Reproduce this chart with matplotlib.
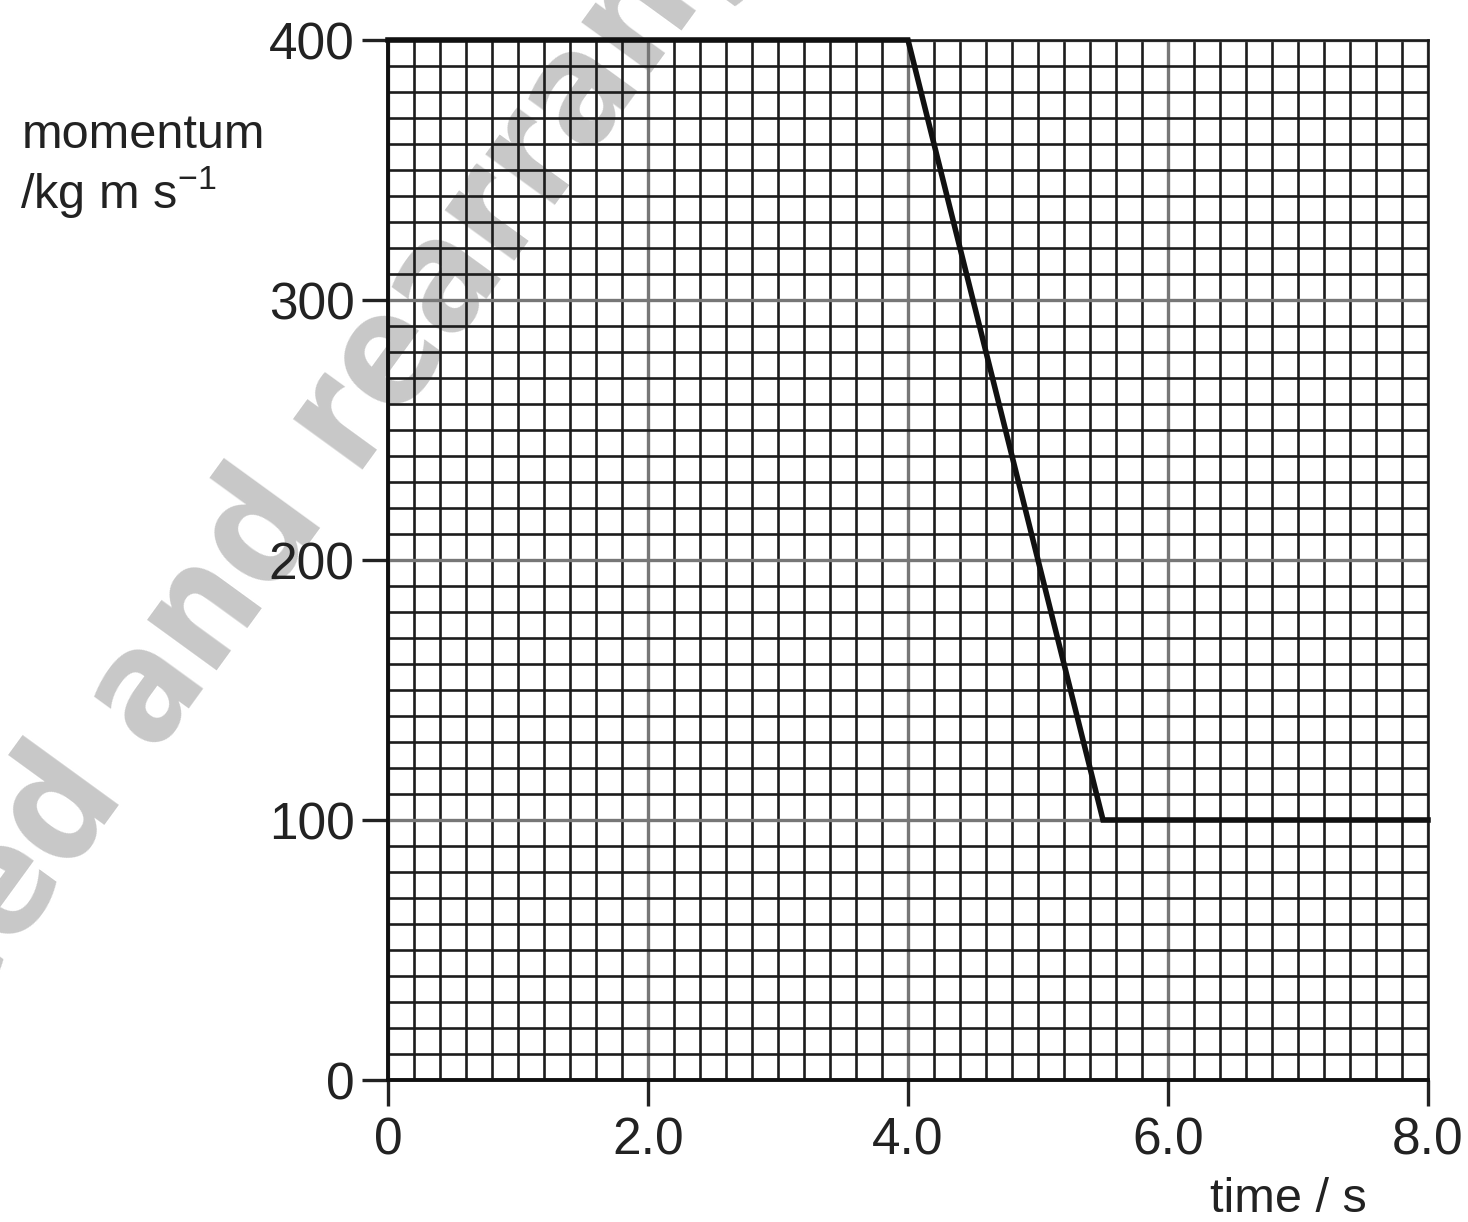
import numpy as np
import matplotlib
matplotlib.use("Agg")
import matplotlib.pyplot as plt
from matplotlib.ticker import MultipleLocator

# data
time_s = [0.0, 4.0, 5.5, 8.0]
momentum = [400, 400, 100, 100]
x_ticks = [0, 2.0, 4.0, 6.0, 8.0]
x_labels = ["0", "2.0", "4.0", "6.0", "8.0"]
y_ticks = [0, 100, 200, 300, 400]
y_labels = ["0", "100", "200", "300", "400"]

plt.rcParams["font.family"] = ["Liberation Sans", "DejaVu Sans"]

fig = plt.figure(figsize=(14.68, 12.22), dpi=100)
ax = fig.add_axes([388 / 1468, 1 - 1080 / 1222, 1040 / 1468, 1040 / 1222])
ax.set_facecolor("none")

# watermark behind the grid
fig.text(0.19, 0.58, "reduced and rearranged", rotation=54,
         rotation_mode="anchor", ha="center", va="center",
         fontsize=112, fontweight="heavy", color="#c8c8c8",
         family="DejaVu Sans", fontstretch="condensed", zorder=-5)

ax.set_xlim(0, 8.0)
ax.set_ylim(0, 400)

# graph paper grid
ax.xaxis.set_minor_locator(MultipleLocator(0.2))
ax.yaxis.set_minor_locator(MultipleLocator(10))
ax.grid(which="minor", color="#1c1c1c", linewidth=1.9)
ax.grid(which="major", color="#777777", linewidth=2.4)
ax.set_axisbelow(True)

ax.plot(time_s, momentum, color="#111111", linewidth=4.0,
        solid_joinstyle="miter", zorder=5, clip_on=False)

ax.set_xticks(x_ticks)
ax.set_xticklabels(x_labels)
ax.set_yticks(y_ticks)
ax.set_yticklabels(y_labels)
ax.tick_params(which="major", length=19, width=2.4, color="#222222",
               labelsize=37, labelcolor="#222222")
ax.tick_params(axis="x", pad=7)
ax.tick_params(axis="y", pad=5)
ax.tick_params(which="minor", length=0)

for side in ["left", "bottom"]:
    ax.spines[side].set_linewidth(2.8)
    ax.spines[side].set_color("#111111")
for side in ["top", "right"]:
    ax.spines[side].set_linewidth(1.9)
    ax.spines[side].set_color("#1c1c1c")

fig.text(22 / 1468, 1 - 135 / 1222, "momentum", fontsize=35,
         color="#222222", va="center", ha="left")
fig.text(20 / 1468, 1 - 192 / 1222, "/kg m s$^{\\mathregular{-1}}$",
         fontsize=35, color="#222222", va="center", ha="left")
fig.text(1288 / 1468, 1 - 1200 / 1222, "time / s", fontsize=35,
         color="#222222", va="center", ha="center")

fig.savefig("out.png", dpi=100)
